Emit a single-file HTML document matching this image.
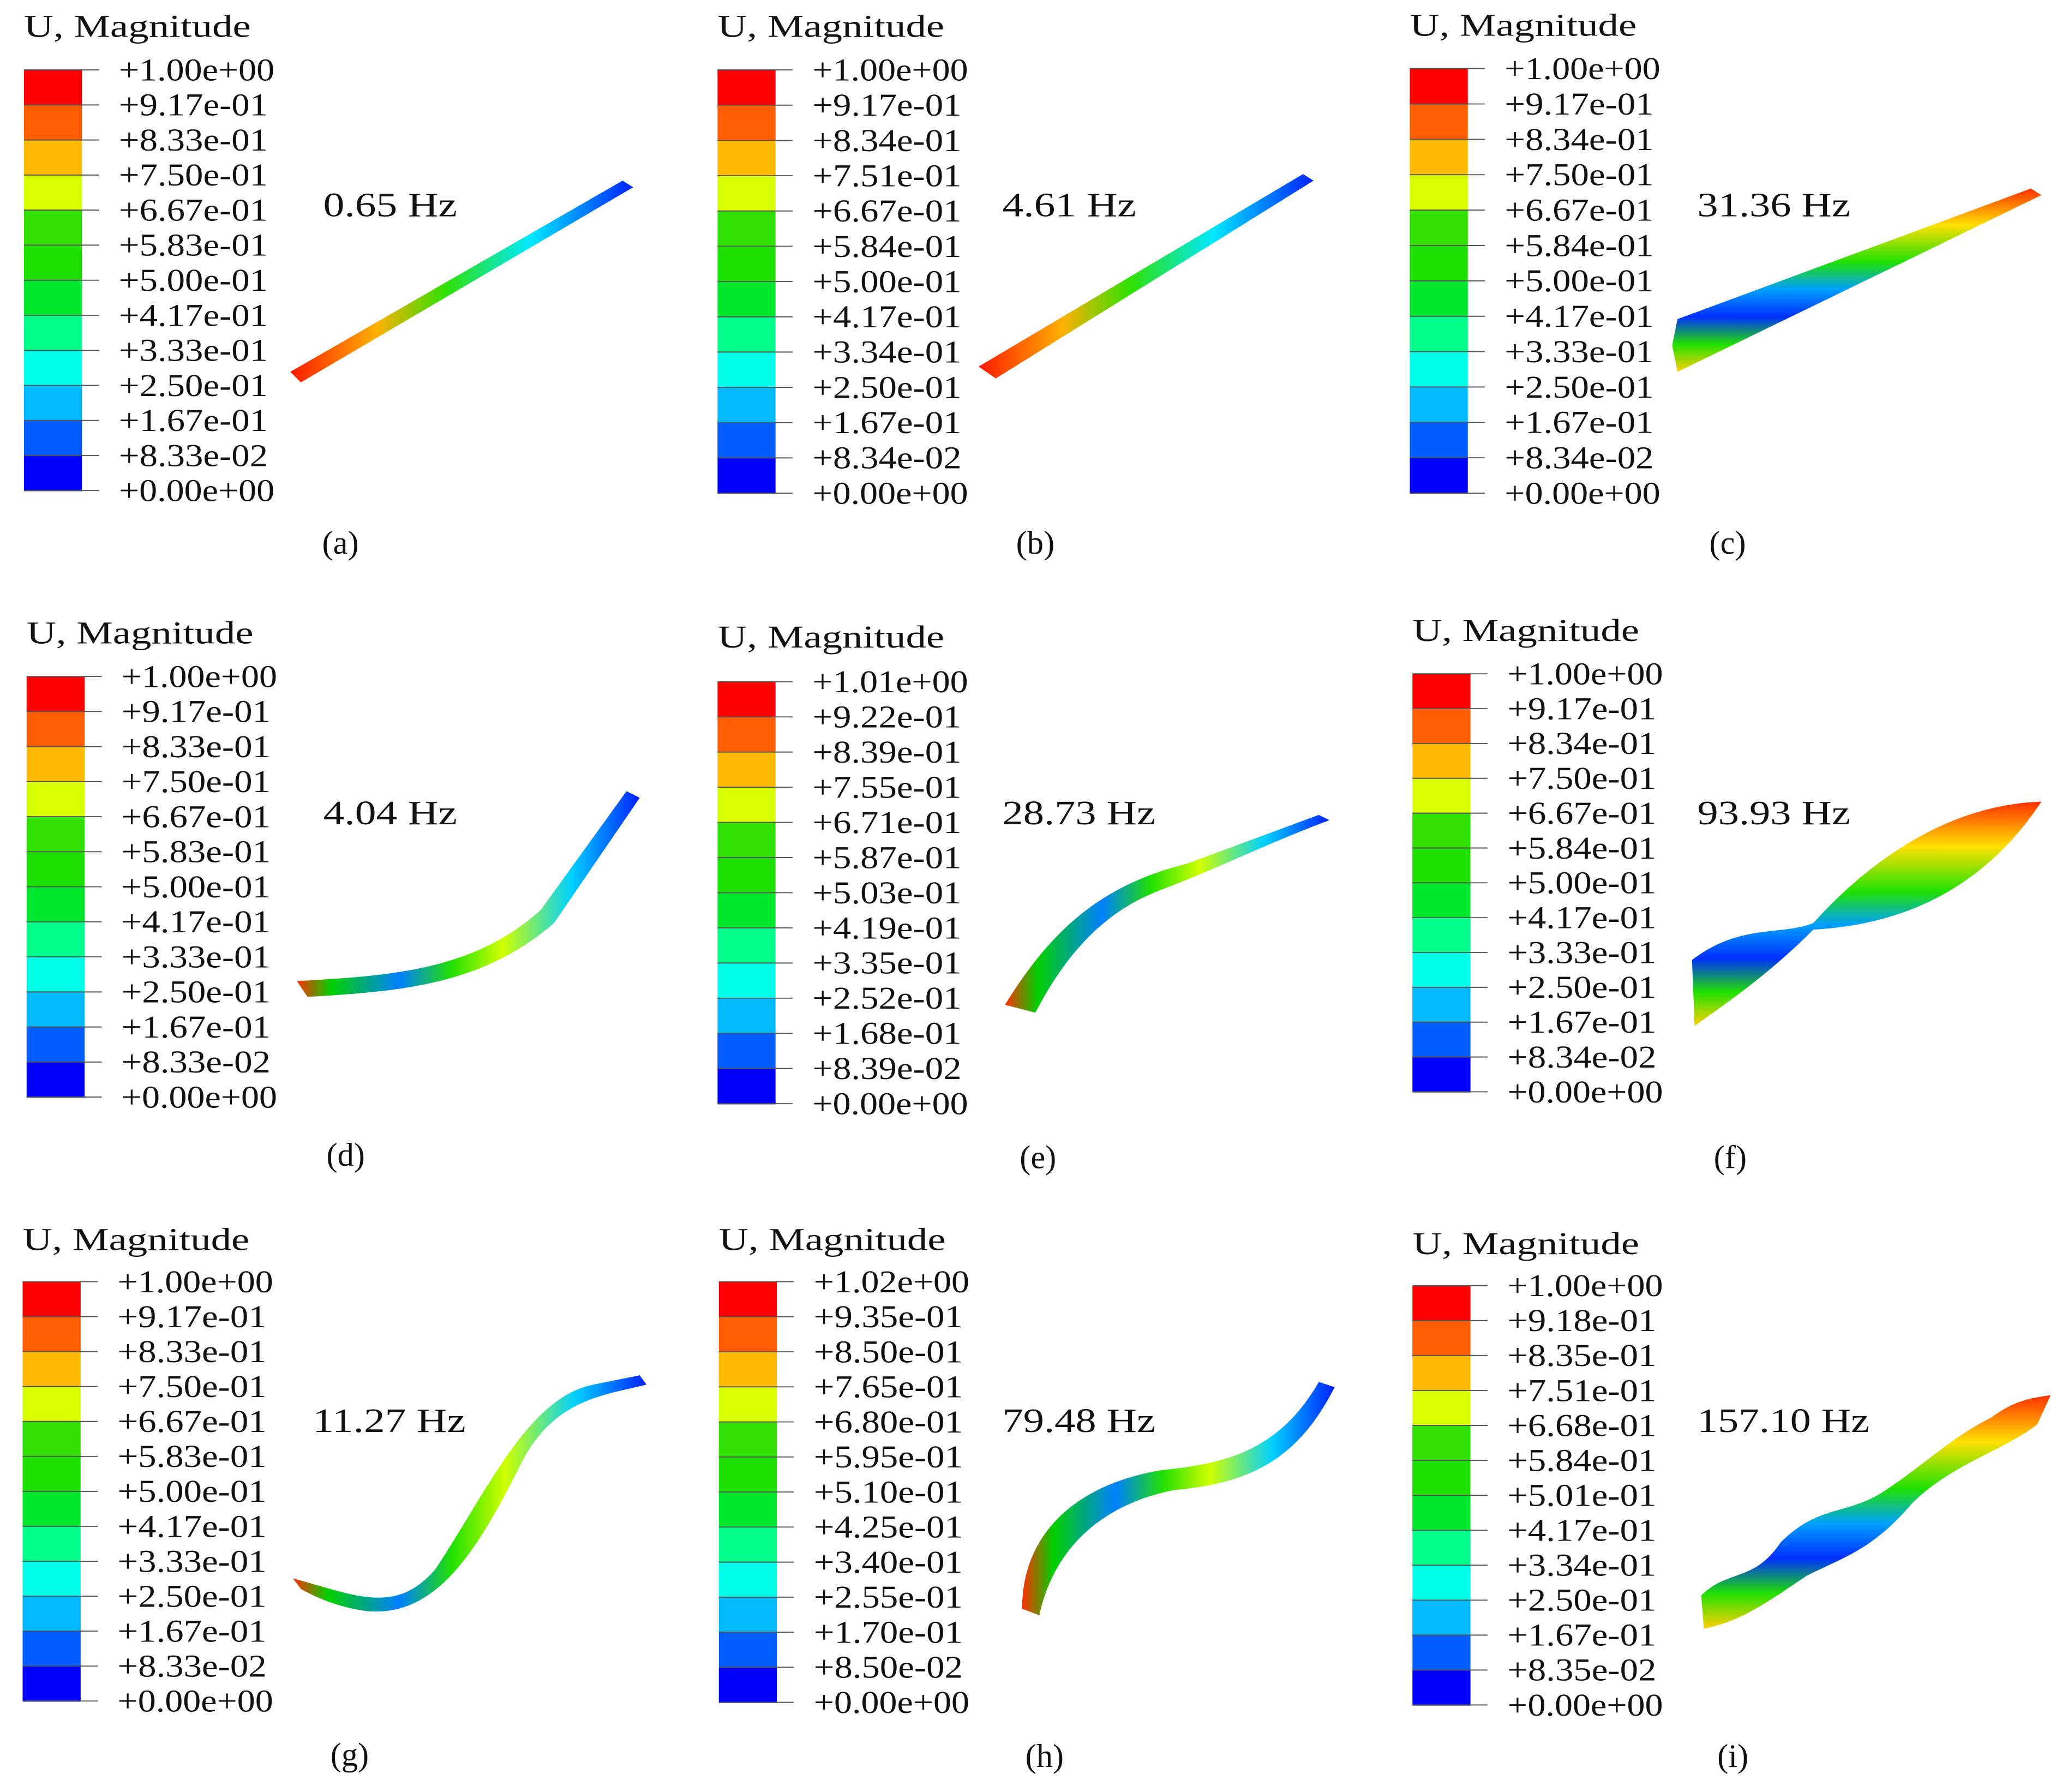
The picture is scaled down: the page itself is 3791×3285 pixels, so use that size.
<!DOCTYPE html>
<html><head><meta charset="utf-8">
<style>
html,body{margin:0;padding:0;background:#fff;}
svg{display:block;}
text{font-family:"Liberation Serif",serif;fill:#111;}
</style></head>
<body>
<svg id="fig" width="3791" height="3285" viewBox="0 0 1568 1359" xmlns="http://www.w3.org/2000/svg">
<defs>
<linearGradient id="gRB" x1="0" x2="1" y1="0" y2="0">
<stop offset="0" stop-color="#ff1a00"/><stop offset="0.25" stop-color="#ffb000"/><stop offset="0.45" stop-color="#30e000"/><stop offset="0.7" stop-color="#00e8ff"/><stop offset="1" stop-color="#0020ff"/></linearGradient>
<linearGradient id="gMix" x1="0" x2="1" y1="0" y2="0">
<stop offset="0" stop-color="#ff3000"/><stop offset="0.1" stop-color="#00d000"/><stop offset="0.3" stop-color="#0080ff"/><stop offset="0.45" stop-color="#20e000"/><stop offset="0.6" stop-color="#d0ff00"/><stop offset="0.8" stop-color="#00d0ff"/><stop offset="1" stop-color="#0020ff"/></linearGradient>
<linearGradient id="gStripe" x1="0" x2="0" y1="0" y2="1">
<stop offset="0" stop-color="#ff3000"/><stop offset="0.2" stop-color="#ffe000"/><stop offset="0.4" stop-color="#20e000"/><stop offset="0.55" stop-color="#00a0ff"/><stop offset="0.7" stop-color="#0030ff"/><stop offset="0.85" stop-color="#20e000"/><stop offset="1" stop-color="#ffd000"/></linearGradient>
</defs>
<g id="panels"></g>
<g id="shapes">
<path d="M220,282 L472,137 L480,142 L228,290 Z" fill="url(#gRB)"/>
<path d="M742,278 L988,132 L996,137 L755,287 Z" fill="url(#gRB)"/>
<path d="M1272,242 L1540,143 L1548,148 L1272,282 L1268,262 Z" fill="url(#gStripe)"/>
<path d="M225,744 C300,740 360,735 410,690 L475,600 L485,605 L420,700 C365,748 300,752 233,756 Z" fill="url(#gMix)"/>
<path d="M762,762 C800,700 840,670 900,655 L1000,618 L1008,622 C960,640 920,660 880,675 C840,690 810,720 785,768 Z" fill="url(#gMix)"/>
<path d="M1283,728 C1320,700 1350,710 1375,700 C1420,650 1480,610 1548,608 C1520,650 1470,700 1375,705 C1340,740 1310,760 1285,778 Z" fill="url(#gStripe)"/>
<path d="M222,1197 C270,1210 300,1225 330,1190 C370,1130 400,1060 450,1050 L485,1043 L490,1050 C460,1058 420,1060 395,1110 C360,1180 330,1225 280,1222 C260,1220 240,1212 228,1205 Z" fill="url(#gMix)"/>
<path d="M775,1220 C775,1160 820,1125 880,1115 C930,1110 970,1100 1000,1048 L1012,1052 C985,1105 950,1125 890,1130 C840,1140 800,1170 788,1225 Z" fill="url(#gMix)"/>
<path d="M1290,1210 C1310,1190 1330,1200 1350,1170 C1380,1140 1400,1150 1430,1130 C1460,1110 1480,1090 1510,1075 C1530,1060 1545,1060 1555,1058 L1545,1080 C1520,1100 1480,1110 1450,1140 C1420,1175 1400,1180 1370,1195 C1340,1215 1320,1230 1292,1235 Z" fill="url(#gStripe)"/>
</g>
</svg>
<script>
const bandColors=["#0000ff","#005dff","#00b9ff","#00ffe8","#00ff8b","#00e82e","#1ee000","#30e000","#d8ff00","#ffb900","#ff5d00","#ff0000"];
const labelsA=["+1.00e+00","+9.17e-01","+8.33e-01","+7.50e-01","+6.67e-01","+5.83e-01","+5.00e-01","+4.17e-01","+3.33e-01","+2.50e-01","+1.67e-01","+8.33e-02","+0.00e+00"];
const labelsB=["+1.00e+00","+9.17e-01","+8.34e-01","+7.51e-01","+6.67e-01","+5.84e-01","+5.00e-01","+4.17e-01","+3.34e-01","+2.50e-01","+1.67e-01","+8.34e-02","+0.00e+00"];
const labelsC=["+1.00e+00","+9.17e-01","+8.34e-01","+7.50e-01","+6.67e-01","+5.84e-01","+5.00e-01","+4.17e-01","+3.33e-01","+2.50e-01","+1.67e-01","+8.34e-02","+0.00e+00"];
const labelsE=["+1.01e+00","+9.22e-01","+8.39e-01","+7.55e-01","+6.71e-01","+5.87e-01","+5.03e-01","+4.19e-01","+3.35e-01","+2.52e-01","+1.68e-01","+8.39e-02","+0.00e+00"];
const labelsF=["+1.00e+00","+9.17e-01","+8.34e-01","+7.50e-01","+6.67e-01","+5.84e-01","+5.00e-01","+4.17e-01","+3.33e-01","+2.50e-01","+1.67e-01","+8.34e-02","+0.00e+00"];
const labelsH=["+1.02e+00","+9.35e-01","+8.50e-01","+7.65e-01","+6.80e-01","+5.95e-01","+5.10e-01","+4.25e-01","+3.40e-01","+2.55e-01","+1.70e-01","+8.50e-02","+0.00e+00"];
const labelsI=["+1.00e+00","+9.18e-01","+8.35e-01","+7.51e-01","+6.68e-01","+5.84e-01","+5.01e-01","+4.17e-01","+3.34e-01","+2.50e-01","+1.67e-01","+8.35e-02","+0.00e+00"];
const panelIds=["a","b","c","d","e","f","g","h","i"];
const frequencies=["0.65 Hz","4.61 Hz","31.36 Hz","4.04 Hz","28.73 Hz","93.93 Hz","11.27 Hz","79.48 Hz","157.10 Hz"];
const panelLabels=[labelsA,labelsB,labelsC,labelsA,labelsE,labelsF,labelsA,labelsH,labelsI];
// layout
const px=[18,544,1069,20,544,1071,17,545,1071];
const ptitle=[20,20,19,480,483,478,940,940,943];
const ptop=[53,53,52,513,517,511,972,972,975];
const pbot=[372,374,374,832,837,828,1290,1291,1293];
const fx=[245,760,1287,245,760,1287,237,760,1287];
const fy=[156,156,156,617,617,617,1078,1078,1078];
const capX=[258,785,1310,262,787,1312,265,792,1314];
const capY=[412,412,412,876,878,878,1331,1332,1332];
const NS="http://www.w3.org/2000/svg";
const root=document.getElementById("panels");
function mk(tag,attrs,parent){const e=document.createElementNS(NS,tag);for(const k in attrs)e.setAttribute(k,attrs[k]);parent.appendChild(e);return e;}
panelIds.forEach((id,p)=>{
  const g=mk("g",{},root);
  
  
  const t=mk("text",{x:px[p],y:ptitle[p]+8,"font-size":24,textLength:172,lengthAdjust:"spacingAndGlyphs"},g);
  t.textContent="U, Magnitude";
  
  
  const labs=panelLabels[p];
  const n=bandColors.length;
  const h=(pbot[p]-ptop[p])/n;
  for(let i=0;i<n;i++){
    const r=mk("rect",{x:px[p],y:ptop[p]+i*h,width:44,height:h+0.5,fill:bandColors[n-1-i]},g);
    
    
  }
  for(let i=0;i<labs.length;i++){
    const y=ptop[p]+i*h;
    mk("line",{x1:px[p],x2:px[p]+57,y1:y,y2:y,stroke:"#555","stroke-width":0.8},g);
    const w=labs[i].indexOf("e+")>=0?118:113;
    const tx=mk("text",{x:px[p]+72,y:y+8,"font-size":24,textLength:w,lengthAdjust:"spacingAndGlyphs"},g);
    tx.textContent=labs[i];
    
    
  }
  const f=mk("text",{x:fx[p],y:fy[p]+8,"font-size":26,textLength:frequencies[p].length*14.5,lengthAdjust:"spacingAndGlyphs"},g);
  f.textContent=frequencies[p];
  
  
  const c=mk("text",{x:capX[p],y:capY[p]+8,"font-size":25,"text-anchor":"middle"},g);
  c.textContent="("+id+")";
  
  
});
</script>
</body></html>
